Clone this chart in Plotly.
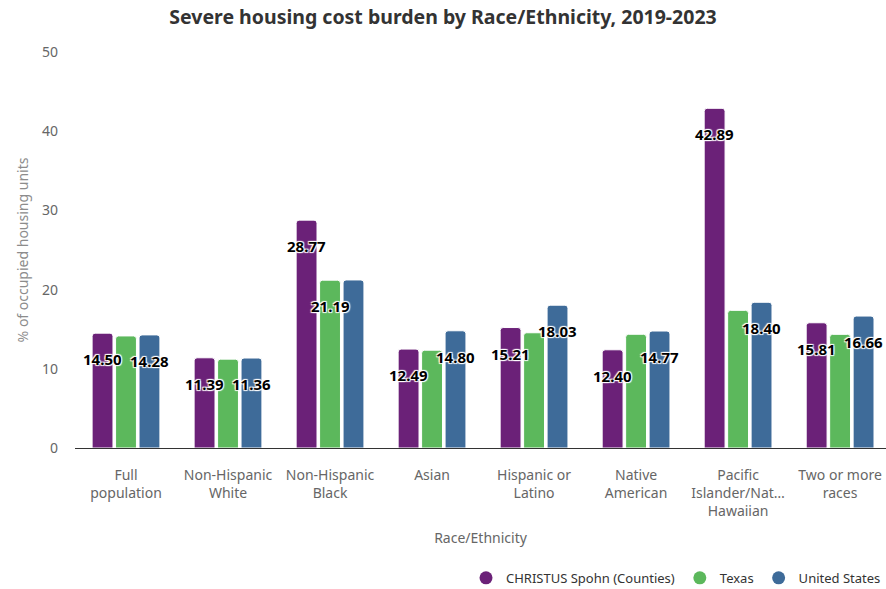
import plotly.graph_objects as go

categories = [
    "Full<br>population",
    "Non-Hispanic<br>White",
    "Non-Hispanic<br>Black",
    "Asian",
    "Hispanic or<br>Latino",
    "Native<br>American",
    "Pacific<br>Islander/Nat…<br>Hawaiian",
    "Two or more<br>races",
]

christus = [14.50, 11.39, 28.77, 12.49, 15.21, 12.40, 42.89, 15.81]
texas = [14.15, 11.22, 21.19, 12.35, 14.55, 14.36, 17.38, 14.35]
united_states = [14.28, 11.36, 21.22, 14.80, 18.03, 14.77, 18.40, 16.66]

# which value labels stay visible (overlapping ones are hidden)
show_christus = [True] * 8
show_texas = [False, False, True, False, False, False, False, False]
show_us = [True, True, False, True, True, True, True, True]

series = [
    ("CHRISTUS Spohn (Counties)", christus, show_christus, "#6b2178", -1),
    ("Texas", texas, show_texas, "#5cb85c", 0),
    ("United States", united_states, show_us, "#3e6b99", 1),
]

FONT = "Noto Sans"
PITCH = 0.23

fig = go.Figure()
annotations = []
xs = list(range(len(categories)))
for name, vals, shown, color, slot in series:
    fig.add_trace(go.Bar(
        x=xs, y=vals, name=name, showlegend=False,
        marker=dict(color=color, line=dict(color="white", width=1)),
        hovertemplate="%{y:.2f}<extra>" + name + "</extra>",
    ))
    # circle markers for the legend
    fig.add_trace(go.Scatter(
        x=[None], y=[None], mode="markers", name=name,
        marker=dict(color=color, size=13, symbol="circle"),
    ))
    for i, (v, s) in enumerate(zip(vals, shown)):
        if not s:
            continue
        annotations.append(dict(
            x=i + slot * PITCH, y=v, xref="x", yref="y",
            text=f"<b>{v:.2f}</b>", showarrow=False,
            yanchor="middle", xanchor="center", yshift=-26,
            font=dict(family=FONT, size=15, color="#000000",
                      shadow="1px 1px 1px #fff, -1px -1px 1px #fff, 1px -1px 1px #fff, -1px 1px 1px #fff"),
        ))

fig.update_layout(
    width=886, height=589,
    margin=dict(l=75, r=0, t=52, b=141, autoexpand=False),
    paper_bgcolor="white", plot_bgcolor="white",
    font=dict(family=FONT, color="#666666"),
    barmode="group", bargap=0.31, bargroupgap=0.11, barcornerradius=3,
    title=dict(
        text="<b>Severe housing cost burden by Race/Ethnicity, 2019-2023</b>",
        x=0.5, xanchor="center", y=1 - 17 / 589, yanchor="middle",
        font=dict(family=FONT, size=19.5, color="#333333"),
    ),
    xaxis=dict(
        tickmode="array", tickvals=xs, ticktext=categories,
        range=[-0.5, 7.45], showline=True, linecolor="#333333", linewidth=1,
        showgrid=False, zeroline=False, ticks="", automargin=False,
        tickfont=dict(family=FONT, size=14, color="#666666"),
        ticklabelstandoff=14,
        title=dict(text="Race/Ethnicity", standoff=13,
                   font=dict(family=FONT, size=14, color="#666666")),
    ),
    yaxis=dict(
        range=[0, 50], tickvals=[0, 10, 20, 30, 40, 50],
        showgrid=False, zeroline=False, showline=False, ticks="", automargin=False,
        tickfont=dict(family=FONT, size=14, color="#666666"),
        ticklabelstandoff=16,
        title=dict(text="% of occupied housing units", standoff=10,
                   font=dict(family=FONT, size=14, color="#8c8c8c")),
    ),
    legend=dict(
        orientation="h", x=1, xanchor="right", y=-0.328, yanchor="middle",
        font=dict(family=FONT, size=13, color="#333333"),
        itemwidth=30, traceorder="normal",
    ),
    annotations=annotations,
)

fig.write_html("out.html")
